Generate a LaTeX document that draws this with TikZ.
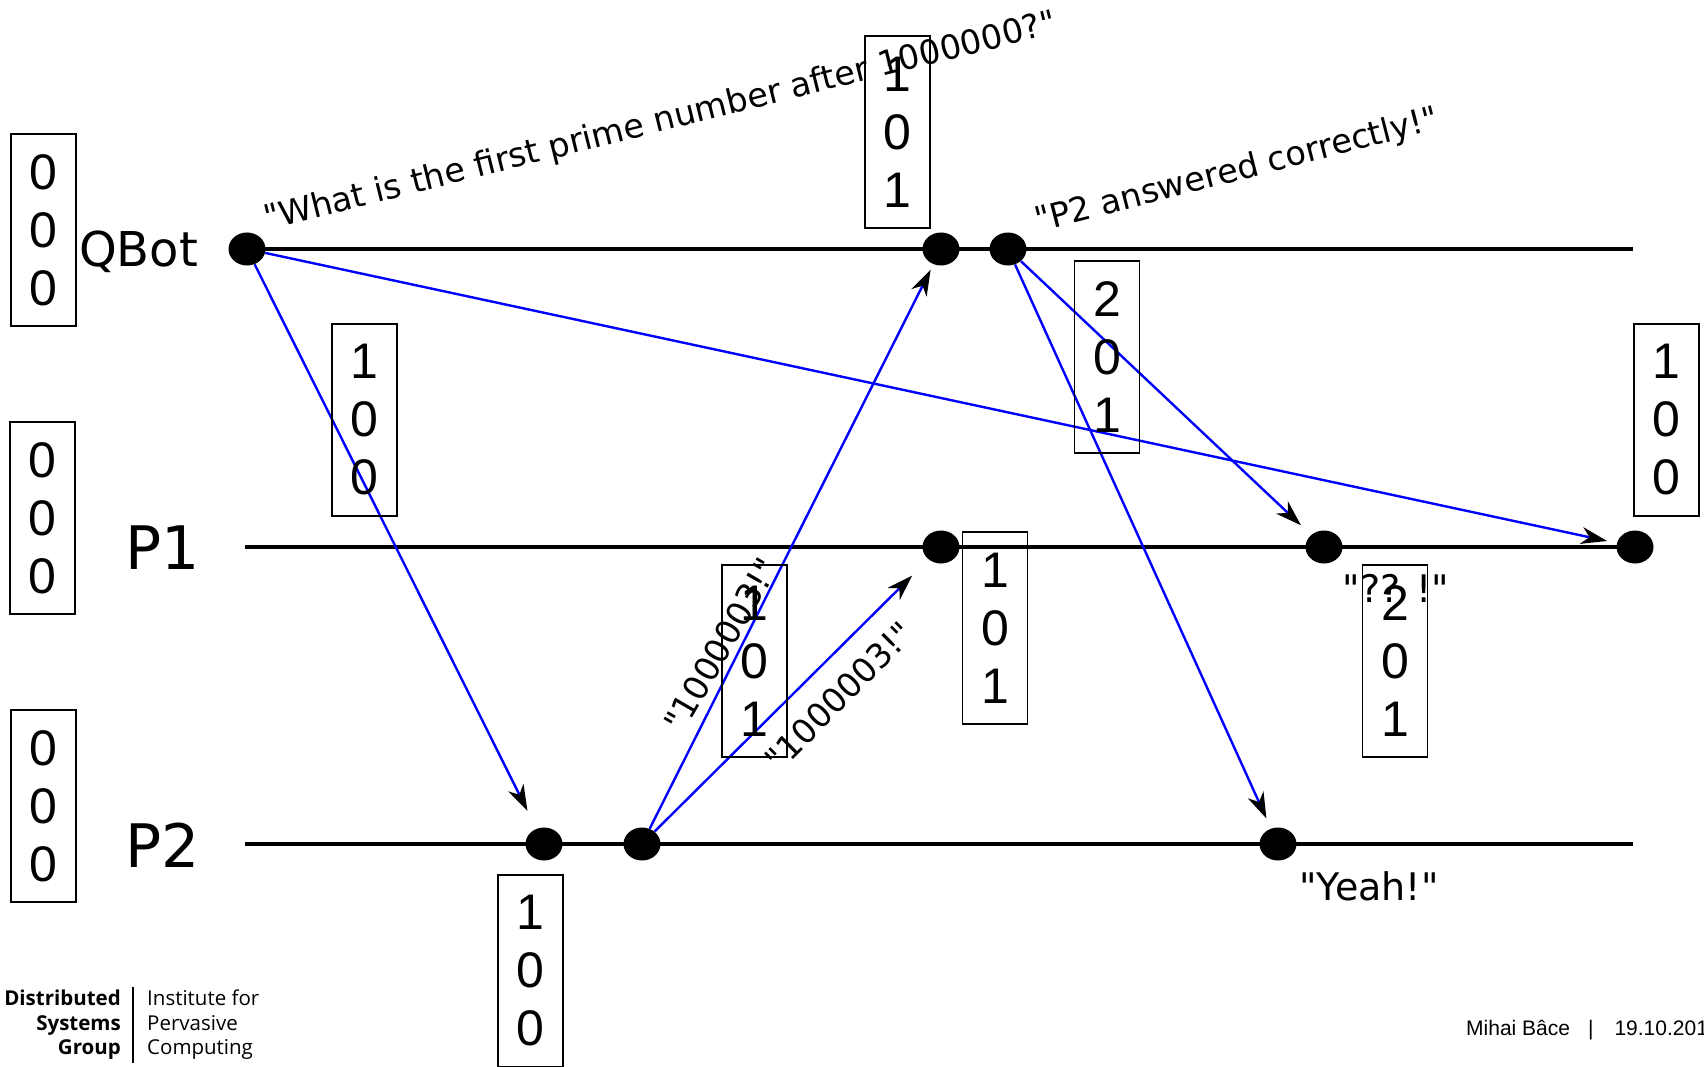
\documentclass[tikz,border=0pt]{standalone}
\usepackage{fontspec}
\usepackage{xcolor}
\usepackage{tikz}
\usetikzlibrary{backgrounds,arrows.meta,shapes.geometric}
\newfontfamily\dvsans{DejaVu Sans}
\newfontfamily\arialish{Liberation Sans}
\newfontfamily\logofont{Open Sans}
\definecolor{msgBlue}{HTML}{0000FF}
\newcommand{\vc}[3]{#1\\#2\\#3}

\begin{document}
\begin{tikzpicture}[
  x=1pt, y=-1pt,
  tline/.style={line width=4.2pt, draw=black},
  ev/.style={ellipse, fill=black, minimum width=37pt, minimum height=33pt, inner sep=0pt},
  clock/.style={draw=black, line width=1.8pt, align=center, minimum width=65pt, minimum height=192pt,
                inner sep=0pt, font=\arialish\fontsize{50}{58}\selectfont},
  proc/.style={anchor=base west, inner sep=0pt, font=\dvsans\fontsize{60}{72}\selectfont},
  say/.style={inner sep=0pt, font=\dvsans\fontsize{33.5}{40}\selectfont},
  reply/.style={inner sep=0pt, anchor=base, font=\dvsans\fontsize{38}{46}\selectfont},
  msg/.style={-{Stealth[length=26pt, width=17pt, inset=8pt, color=black]}, line width=2.4pt, draw=msgBlue},
  foot/.style={inner sep=0pt, font=\logofont\fontsize{20.5}{24.5}\selectfont},
]
\useasboundingbox (0,0) rectangle (1704,1067);

% ── Processes: labels + events ───────────────────────────────────────────────
\node[proc, font=\dvsans\fontsize{48}{58}\selectfont] (lq) at (79,266) {QBot};
\node[proc] (lp1) at (125,569) {P1};
\node[proc] (lp2) at (125,867) {P2};

\node[ev] (q0)  at (247,249)  {};
\node[ev] (q1)  at (941,249)  {};
\node[ev] (q2)  at (1008,249) {};
\node[ev] (p1a) at (941,547)  {};
\node[ev] (p1b) at (1324,547) {};
\node[ev] (p1c) at (1635,547) {};
\node[ev] (p2a) at (544,844)  {};
\node[ev] (p2b) at (642,844)  {};
\node[ev] (p2c) at (1278,844) {};

\coordinate (qE)  at (1633,249);
\coordinate (p1S) at (245,547);
\coordinate (p2S) at (245,844);
\coordinate (p2E) at (1633,844);

% ── Vector clocks ────────────────────────────────────────────────────────────
\node[clock] (c0q)  at (43.5,230)  {\vc000};
\node[clock] (c0p1) at (42.5,518)  {\vc000};
\node[clock] (c0p2) at (43.5,806)  {\vc000};
\node[clock] (cq0)  at (364.5,420) {\vc100};
\node[clock] (cq1)  at (897.5,132) {\vc101};
\node[clock] (cq2)  at (1107,357)  {\vc201};
\node[clock] (cp1a) at (995,628)   {\vc101};
\node[clock] (cp1b) at (1395,661)  {\vc201};
\node[clock] (cp1c) at (1666.5,420) {\vc100};
\node[clock] (cp2a) at (530.5,971) {\vc100};
\node[clock] (cp2b) at (754.5,661) {\vc101};

% ── Message texts ────────────────────────────────────────────────────────────
\node[say, rotate=14, anchor=base west] (ask)  at (267,230)  {"What is the first prime number after 1000000?"};
\node[say, rotate=14.4, anchor=base west] (done) at (1038,232) {"P2 answered correctly!"};
\node[say, rotate=60] (ans1) at (721,645) {"1000003!"};
\node[say, rotate=45] (ans2) at (839,696) {"1000003!"};
\node[reply] (huh)  at (1396,602) {"?? !"};
\node[reply] (yeah) at (1369,900) {"Yeah!"};

% ── Footer ───────────────────────────────────────────────────────────────────
\node[foot, font=\logofont\bfseries\fontsize{20.5}{24.5}\selectfont, align=right, anchor=east] (dsg) at (121,1025) {Distributed\\Systems\\Group};
\node[foot, align=left, anchor=west] (ipc) at (147,1025) {Institute for\\Pervasive\\Computing};
\draw[line width=1.2pt] (133,987) -- (133,1063);
\node[inner sep=0pt, anchor=base west, font=\arialish\fontsize{21}{25}\selectfont] (author) at (1466,1035)
  {Mihai Bâce\hspace{18pt}|\hspace{21pt}19.10.201};

% ── Background: time lines, messages ─────────────────────────────────────────
\begin{scope}[on background layer]
  \draw[tline] (q0.center) -- (qE);
  \draw[tline] (p1S) -- (p1c.center);
  \draw[tline] (p2S) -- (p2E);

  \draw[msg, shorten >=20pt] (q0) -- (p2a);
  \draw[msg, shorten >=10pt] (q0) -- (p1c);
  \draw[msg, shorten >=6pt]  (p2b) -- (q1);
  \draw[msg, shorten >=23pt] (p2b) -- (p1a);
  \draw[msg, shorten >=14pt] (q2) -- (p1b);
  \draw[msg, shorten >=11pt] (q2) -- (p2c);
\end{scope}

\end{tikzpicture}
\end{document}
